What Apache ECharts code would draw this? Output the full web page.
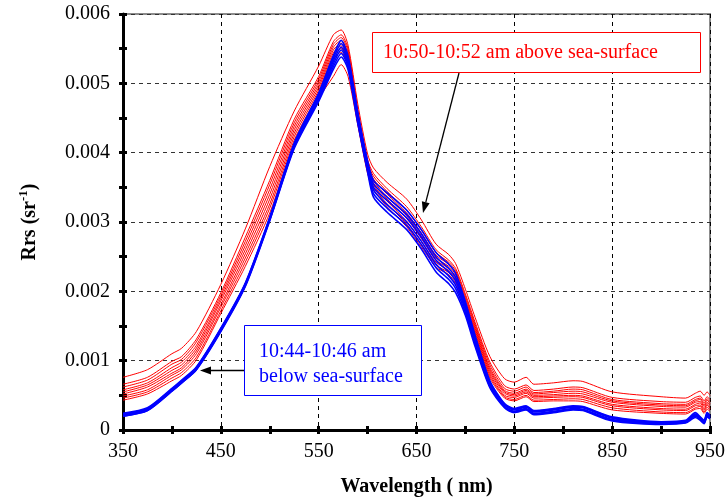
<!DOCTYPE html>
<html>
<head>
<meta charset="utf-8">
<script src="https://cdn.jsdelivr.net/npm/echarts@6/dist/echarts.min.js"></script>
<style>html,body{margin:0;padding:0;background:#fff;}#chart{width:727px;height:500px;}</style>
</head>
<body>
<div id="chart"></div>
<script>
// Wavelengths (nm)
const wavelengths = [350,375,400,410,425,450,475,500,525,550,565,573,580,590,600,606,620,640,655,670,683,690,700,710,725,740,750,762,770,790,810,820,850,900,925,935,940,944,947,950];

// 10:50-10:52 am above sea-surface (red), Rrs sr^-1
const above1 = [.00076,.00087,.0011,.00118,.00142,.0021,.0029,.0038,.0046,.00525,.0057,.00577,.00555,.0047,.00398,.00378,.00357,.00333,.00303,.00268,.00253,.0024,.00203,.00162,.00106,.00074,.00069,.00076,.00066,.00068,.00071,.0007,.00055,.00048,.00046,.00053,.00056,.0005,.00055,.0005];
const above2 = [.00066,.00076,.00099,.00106,.00131,.00198,.00278,.0036,.00448,.0051,.0056,.0057,.0055,.00462,.0039,.0037,.00348,.00322,.00293,.0026,.00245,.00233,.00196,.00155,.00098,.00064,.00059,.00065,.00057,.00059,.00062,.00061,.00047,.00041,.0004,.00047,.00049,.00042,.00048,.00044];
const above3 = [.00062,.00072,.00095,.00102,.00127,.00194,.00272,.00354,.00443,.00506,.00556,.00566,.00546,.00458,.00387,.00366,.00344,.00317,.00288,.00256,.00242,.0023,.00193,.00152,.00094,.0006,.00056,.00062,.00054,.00056,.00059,.00058,.00044,.00038,.00037,.00044,.00046,.00039,.00045,.00041];
const above4 = [.00058,.00068,.0009,.00098,.00122,.0019,.00266,.00347,.00438,.00502,.00552,.00562,.00542,.00455,.00384,.00362,.0034,.00313,.00284,.00252,.00239,.00227,.0019,.00149,.0009,.00057,.00053,.00059,.00052,.00054,.00056,.00055,.00042,.00036,.00035,.00042,.00044,.00036,.00043,.00038];
const above5 = [.00055,.00065,.00086,.00094,.00118,.00186,.0026,.0034,.00433,.00498,.00548,.00558,.00538,.00452,.00381,.00359,.00336,.00309,.0028,.00248,.00236,.00224,.00187,.00146,.00087,.00055,.00051,.00057,.0005,.00051,.00053,.00052,.0004,.00034,.00033,.0004,.00041,.00034,.0004,.00036];
const above6 = [.00052,.00062,.00082,.0009,.00114,.00181,.00254,.00333,.00428,.00494,.00544,.00554,.00534,.00448,.00378,.00356,.00333,.00305,.00276,.00245,.00233,.00221,.00184,.00143,.00084,.00053,.00049,.00055,.00048,.00049,.0005,.00049,.00037,.00031,.0003,.00037,.00039,.00031,.00038,.00033];
const above7 = [.00049,.00058,.00079,.00087,.0011,.00177,.00248,.00326,.00423,.0049,.0054,.0055,.0053,.00445,.00376,.00353,.0033,.00301,.00272,.00242,.0023,.00218,.00181,.0014,.00081,.0005,.00047,.00053,.00046,.00047,.00048,.00047,.00035,.00029,.00028,.00035,.00036,.00029,.00036,.00031];
const above8 = [.00046,.00055,.00075,.00083,.00105,.00172,.00242,.0032,.00418,.00486,.00535,.00545,.00525,.00442,.00373,.0035,.00326,.00297,.00268,.00238,.00227,.00215,.00178,.00137,.00078,.00048,.00044,.0005,.00043,.00044,.00045,.00044,.00032,.00026,.00025,.00032,.00034,.00026,.00033,.00029];
const above9 = [.00043,.00052,.00071,.00079,.00101,.00168,.00236,.00313,.00413,.00478,.0051,.00527,.0051,.0044,.0037,.00347,.00322,.00293,.00264,.00235,.00224,.00212,.00175,.00134,.00075,.00046,.00042,.00048,.00041,.00042,.00042,.00041,.00029,.00024,.00023,.0003,.00031,.00024,.0003,.00027];

// 10:44-10:46 am below sea-surface (blue)
const below1 = [.00024,.00032,.0006,.00072,.00091,.00147,.00212,.00307,.00414,.00486,.0054,.00562,.0054,.00458,.00388,.0036,.00342,.00317,.00289,.00256,.00239,.00226,.00185,.00136,.00071,.00038,.00031,.00035,.00028,.00031,.00035,.00034,.00019,.00012,.00014,.00025,.00019,.00014,.00025,.00021];
const below2 = [.00023,.00031,.00059,.00071,.0009,.00146,.00211,.00306,.00412,.00484,.00536,.00557,.00536,.00455,.00385,.00355,.00336,.00311,.00283,.0025,.00233,.0022,.00181,.00133,.00069,.00037,.0003,.00034,.00027,.0003,.00034,.00033,.00018,.00011,.00013,.00023,.00018,.00013,.00023,.0002];
const below3 = [.00022,.0003,.00058,.0007,.00089,.00145,.0021,.00305,.00411,.00481,.00532,.00552,.00532,.00452,.00382,.0035,.00331,.00306,.00278,.00245,.00228,.00215,.00177,.0013,.00067,.00036,.00029,.00033,.00026,.00029,.00033,.00032,.00017,.0001,.00012,.00022,.00017,.00012,.00022,.00019];
const below4 = [.00021,.00029,.00057,.00069,.00088,.00144,.00209,.00304,.00409,.00479,.00528,.00548,.00528,.00448,.00378,.00346,.00325,.003,.00272,.00239,.00222,.00209,.00173,.00126,.00065,.00034,.00027,.00031,.00024,.00027,.00031,.0003,.00015,.0001,.00012,.00021,.00016,.00011,.00021,.00018];
const below5 = [.0002,.00028,.00056,.00068,.00087,.00143,.00208,.00303,.00408,.00476,.00524,.00543,.00524,.00445,.00375,.00341,.0032,.00295,.00267,.00234,.00217,.00204,.00169,.00123,.00063,.00033,.00026,.0003,.00023,.00026,.0003,.00029,.00014,.00009,.00011,.0002,.00015,.0001,.0002,.00017];
const below6 = [.0002,.00028,.00056,.00068,.00087,.00142,.00207,.00302,.00406,.00474,.0052,.00538,.0052,.00442,.00372,.00336,.00314,.00289,.00261,.00228,.00211,.00198,.00165,.0012,.00061,.00032,.00025,.00029,.00022,.00025,.00029,.00028,.00013,.00008,.0001,.00018,.00014,.00009,.00019,.00016];

const aboveCurves = [above1,above2,above3,above4,above5,above6,above7,above8,above9];
const belowCurves = [below1,below2,below3,below4,below5,below6];

const xTicks = {min:350, max:950, interval:100};
const yTicks = {min:0, max:0.006, interval:0.001};

const aboveLabel = '10:50-10:52 am above sea-surface';
const belowLabel1 = '10:44-10:46 am';
const belowLabel2 = 'below sea-surface';

const FONT = 'Liberation Serif, Times New Roman, serif';

function mk(arr, color, width){
  return {type:'line', data: wavelengths.map((w,i)=>[w, arr[i]]), showSymbol:false, symbol:'none',
    smooth:0.25, lineStyle:{color:color, width:width}, silent:true, z:2};
}
const series = [];
aboveCurves.forEach(a=>series.push(mk(a,'#ff0000',1)));
belowCurves.forEach(b=>series.push(mk(b,'#0000ff',1.6)));

function arrow(x1,y1,x2,y2,len,half){
  const dx=x2-x1, dy=y2-y1, L=Math.sqrt(dx*dx+dy*dy), ux=dx/L, uy=dy/L;
  const bx=x2-ux*len, by=y2-uy*len;
  return [
    {type:'line', shape:{x1:x1,y1:y1,x2:bx,y2:by}, style:{stroke:'#000',lineWidth:1.3}, z:10},
    {type:'polygon', shape:{points:[[x2,y2],[bx-uy*half,by+ux*half],[bx+uy*half,by-ux*half]]}, style:{fill:'#000'}, z:10}
  ];
}

const chart = echarts.init(document.getElementById('chart'), null, {renderer:'canvas'});
chart.setOption({
  animation:false,
  backgroundColor:'#fff',
  grid:{left:123,right:17,top:14,bottom:70,containLabel:false,outerBoundsMode:'none',show:true,borderColor:'#8c8c8c',borderWidth:2,backgroundColor:'transparent'},
  xAxis:[{
    type:'value', min:xTicks.min, max:xTicks.max, interval:xTicks.interval,
    axisLine:{show:true,onZero:false,lineStyle:{color:'#000',width:3}},
    axisTick:{show:true,length:4,lineStyle:{color:'#000',width:3}},
    minorTick:{show:true,splitNumber:2,length:4,lineStyle:{color:'#000',width:3}},
    splitLine:{show:true,lineStyle:{color:'#000',width:1,type:[4,4]}},
    axisLabel:{fontFamily:FONT,fontSize:20,color:'#000',margin:12},
    name:'Wavelength ( nm)', nameLocation:'middle', nameGap:47,
    nameTextStyle:{fontFamily:FONT,fontSize:20,fontWeight:'bold',color:'#000'}
  },{
    type:'value', min:xTicks.min, max:xTicks.max, interval:xTicks.interval, position:'bottom',
    axisLine:{show:false}, axisLabel:{show:false}, splitLine:{show:false},
    axisTick:{show:true,inside:true,length:4,lineStyle:{color:'#000',width:3}},
    minorTick:{show:true,splitNumber:2,length:4,lineStyle:{color:'#000',width:3}}
  }],
  yAxis:[{
    type:'value', min:yTicks.min, max:yTicks.max, interval:yTicks.interval,
    axisLine:{show:true,onZero:false,lineStyle:{color:'#000',width:3}},
    axisTick:{show:true,length:4,lineStyle:{color:'#000',width:3}},
    minorTick:{show:true,splitNumber:2,length:4,lineStyle:{color:'#000',width:3}},
    splitLine:{show:true,lineStyle:{color:'#333',width:1,type:[4,4]}},
    axisLabel:{fontFamily:FONT,fontSize:20,color:'#000',margin:13,
      formatter:v=> v===0 ? '0' : v.toFixed(3)},
    name:'{b|Rrs (sr}{s|-1}{b|)}', nameLocation:'middle', nameGap:80,
    nameTextStyle:{rich:{
      b:{fontFamily:FONT,fontSize:20,fontWeight:'bold',color:'#000',lineHeight:26},
      s:{fontFamily:FONT,fontSize:13,fontWeight:'bold',color:'#000',verticalAlign:'top',lineHeight:26,padding:[0,0,10,0]}
    }}
  },{
    type:'value', min:yTicks.min, max:yTicks.max, interval:yTicks.interval, position:'left',
    axisLine:{show:false}, axisLabel:{show:false}, splitLine:{show:false},
    axisTick:{show:true,inside:true,length:4,lineStyle:{color:'#000',width:3}},
    minorTick:{show:true,splitNumber:2,length:4,lineStyle:{color:'#000',width:3}}
  }],
  series: series,
  graphic:[
    {type:'rect', shape:{x:372.5,y:32.5,width:328,height:40}, style:{fill:'#fff',stroke:'#ff0000',lineWidth:1}, z:9},
    {type:'text', x:383, y:52.5, style:{text:aboveLabel, fontFamily:FONT, fontSize:20, fill:'#ff0000', verticalAlign:'middle', align:'left'}, z:11},
    {type:'rect', shape:{x:244.5,y:325.5,width:177,height:70}, style:{fill:'#fff',stroke:'#0000ff',lineWidth:1}, z:9},
    {type:'text', x:259, y:352, style:{text:belowLabel1, fontFamily:FONT, fontSize:20, fill:'#0000ff', verticalAlign:'middle', align:'left'}, z:11},
    {type:'text', x:259, y:377, style:{text:belowLabel2, fontFamily:FONT, fontSize:20, fill:'#0000ff', verticalAlign:'middle', align:'left'}, z:11},
    ...arrow(459,73,423,213,11,4),
    ...arrow(244,370.5,200,370.5,11,4)
  ]
});
</script>
</body>
</html>
